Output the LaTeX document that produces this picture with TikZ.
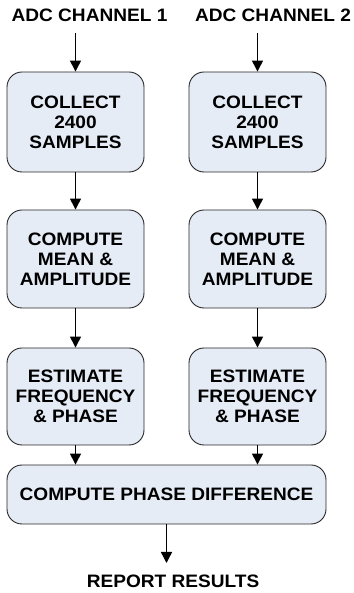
\documentclass[tikz,border=0pt]{standalone}
\usepackage{fontspec}
\newfontfamily\labfont{Liberation Sans}[UprightFont={* Bold},FakeStretch=1.06]
\usetikzlibrary{arrows.meta}
\begin{document}
\begin{tikzpicture}[x=1pt,y=1pt,
  box/.style={draw=black!85, line width=0.9pt, fill=boxfill, rounded corners=15pt,
    inner sep=0pt, align=center, font=\labfont\fontsize{18}{20}\selectfont},
  lbl/.style={inner sep=0pt, font=\labfont\fontsize{18}{20}\selectfont},
  arr/.style={line width=1.4pt, -{Triangle[length=11pt,width=11pt]}}]
\definecolor{boxfill}{HTML}{E6ECF6}
\useasboundingbox (0,0) rectangle (353,593);
% titles
\node[lbl] (t1) at (89.5,578) {ADC CHANNEL 1};
\node[lbl] (t2) at (273,578) {ADC CHANNEL 2};
\coordinate (s1) at (75.5,560);
\coordinate (s2) at (257.5,560);
% column 1
\node[box, minimum width=137pt, minimum height=100pt] (a1) at (75.5,471) {COLLECT\\2400\\SAMPLES};
\node[box, minimum width=137pt, minimum height=98pt] (b1) at (75.5,334) {COMPUTE\\MEAN \&\\AMPLITUDE};
\node[box, minimum width=137pt, minimum height=97pt] (c1) at (75.5,196.5) {ESTIMATE\\FREQUENCY\\\& PHASE};
% column 2
\node[box, minimum width=137pt, minimum height=100pt] (a2) at (257.5,471) {COLLECT\\2400\\SAMPLES};
\node[box, minimum width=137pt, minimum height=98pt] (b2) at (257.5,334) {COMPUTE\\MEAN \&\\AMPLITUDE};
\node[box, minimum width=137pt, minimum height=97pt] (c2) at (257.5,196.5) {ESTIMATE\\FREQUENCY\\\& PHASE};
% bottom
\node[box, minimum width=319pt, minimum height=59pt] (d) at (166.5,98.5) {COMPUTE PHASE DIFFERENCE};
\node[lbl] (r) at (173,11.5) {REPORT RESULTS};
\coordinate (e) at (166.5,30);
% arrows
\draw[arr] (s1) -- (a1.north);
\draw[arr] (s2) -- (a2.north);
\draw[arr] (a1) -- (b1);
\draw[arr] (a2) -- (b2);
\draw[arr] (b1) -- (c1);
\draw[arr] (b2) -- (c2);
\draw[arr] (c1.south) -- (c1.south |- d.north);
\draw[arr] (c2.south) -- (c2.south |- d.north);
\draw[arr] (d.south) -- (e);
\end{tikzpicture}
\end{document}
